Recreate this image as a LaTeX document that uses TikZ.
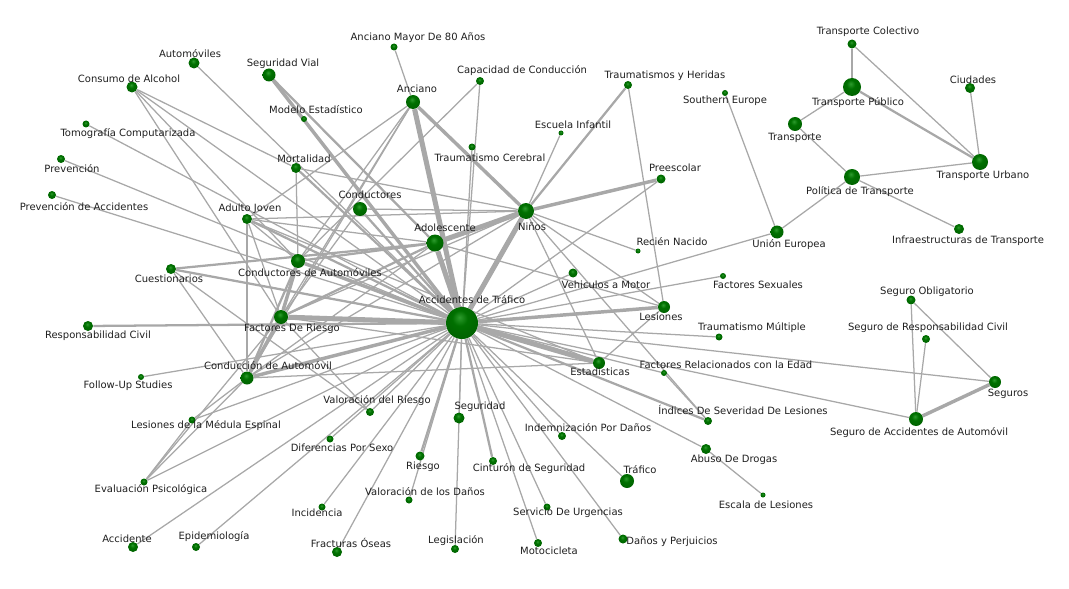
\documentclass[tikz,border=0pt]{standalone}
\usepackage{fontspec}
\setmainfont{DejaVu Sans}
\usetikzlibrary{positioning}
\definecolor{kwhi}{RGB}{45,155,45}
\definecolor{kwmid}{RGB}{0,112,0}
\definecolor{kwdark}{RGB}{0,62,0}
\definecolor{kwedge}{RGB}{168,168,168}
\pgfdeclareradialshading{kwball}{\pgfpoint{-4bp}{9bp}}{color(0bp)=(kwhi); color(12bp)=(kwmid); color(34bp)=(kwmid!85!black); color(50bp)=(kwdark); color(72bp)=(kwdark)}
\pgfdeclarelayer{edges}
\pgfsetlayers{edges,main}

\begin{document}
\begin{tikzpicture}[x=0.75pt,y=-0.75pt,
		kwnode/.style={circle,inner sep=0pt,shading=kwball},
		kwlabel/.style={inner sep=0pt,text=black!88,font=\fontsize{7.5}{9}\selectfont},
		w1/.style={draw=kwedge,line width=0.95pt},
		w2/.style={draw=kwedge,line width=1.7pt},
		w3/.style={draw=kwedge,line width=2.6pt},
		w4/.style={draw=kwedge,line width=3.8pt}]
		\useasboundingbox (0,0) rectangle (1069,588);
		% keywords: name/x/y/diameter/label x/label y/text
		\foreach \n/\x/\y/\d/\lx/\ly/\t in {
			hub/462/323/32/472/300/Accidentes de Tráfico,
			auto/194/63/11/190/54/Automóviles,
			segvial/269/75/13/283/64/Seguridad Vial,
			alcohol/132/87/11/129/79/Consumo de Alcohol,
			modelo/304/119/6/316/110/Modelo Estadístico,
			tomo/86/124/7/128/134/Tomografía Computarizada,
			prev/61/159/8/72/169/Prevención,
			prevacc/52/195/8/84/207/Prevención de Accidentes,
			mort/296/168/10/304/159/Mortalidad,
			adulto/247/219/10/250/209/Adulto Joven,
			condaut/298/261/14/310/273/Conductores de Automóviles,
			cuest/171/269/10/169/279/Cuestionarios,
			conductores/360/209/14/370/195/Conductores,
			ancmayor/394/47/7/418/38/Anciano Mayor De 80 Años,
			capac/480/81/8/522/71/Capacidad de Conducción,
			anciano/413/102/14/417/89/Anciano,
			trauher/628/85/8/665/76/Traumatismos y Heridas,
			escuela/561/133/5/573/125/Escuela Infantil,
			traucer/472/147/7/490/158/Traumatismo Cerebral,
			presc/661/179/9/675/168/Preescolar,
			ninos/526/211/16/532/227/Niños,
			adol/435/243/17/445/228/Adolescente,
			recien/638/251/5/672/242/Recién Nacido,
			vehic/573/273/9/606/285/Vehiculos a Motor,
			tcol/852/44/9/868/32/Transporte Colectivo,
			tpub/852/87/18/858/103/Transporte Público,
			ciud/970/88/10/973/80/Ciudades,
			south/725/93/6/725/101/Southern Europe,
			transp/795/124/14/795/138/Transporte,
			turb/980/162/16/983/176/Transporte Urbano,
			polit/852/177/16/860/192/Política de Transporte,
			ue/777/232/13/789/245/Unión Europea,
			infra/959/229/10/968/241/Infraestructuras de Transporte,
			fsex/723/276/6/758/285/Factores Sexuales,
			segob/911/300/9/927/292/Seguro Obligatorio,
			segrc/926/339/8/928/328/Seguro de Responsabilidad Civil,
			traumul/719/337/7/752/328/Traumatismo Múltiple,
			factedad/664/373/6/726/365/Factores Relacionados con la Edad,
			seguros/995/382/12/1008/394/Seguros,
			segacc/916/419/14/919/433/Seguro de Accidentes de Automóvil,
			indices/708/421/8/743/410/Índices De Severidad De Lesiones,
			abuso/706/449/10/734/460/Abuso De Drogas,
			escala/763/495/5/766/505/Escala de Lesiones,
			lesiones/664/307/12/661/317/Lesiones,
			estad/599/363/12/600/372/Estadisticas,
			valries/370/412/8/377/401/Valoración del Riesgo,
			seguridad/459/418/11/480/407/Seguridad,
			indem/562/436/8/588/428/Indemnización Por Daños,
			difsexo/330/439/7/342/448/Diferencias Por Sexo,
			riesgo/420/456/9/423/467/Riesgo,
			cint/493/461/8/529/469/Cinturón de Seguridad,
			trafico/627/481/14/640/470/Tráfico,
			valdan/409/500/7/425/492/Valoración de los Daños,
			servurg/547/507/7/568/513/Servicio De Urgencias,
			incid/322/507/7/317/513/Incidencia,
			legis/455/549/8/456/541/Legislación,
			moto/538/543/8/549/551/Motocicleta,
			danos/623/539/9/672/542/Daños y Perjuicios,
			fract/337/552/10/351/543/Fracturas Óseas,
			respciv/88/326/10/98/336/Responsabilidad Civil,
			factries/281/317/14/292/329/Factores De Riesgo,
			conduc/247/378/13/268/366/Conducción de Automóvil,
			followup/141/377/6/128/386/Follow-Up Studies,
			lme/192/420/7/206/426/Lesiones de la Médula Espinal,
			evalps/144/482/7/151/490/Evaluación Psicológica,
			accid/133/547/10/127/539/Accidente,
			epid/196/547/8/214/537/Epidemiología}
		{
			\node[kwnode,minimum size=\d*0.75pt] (\n) at (\x,\y) {};
			\node[kwlabel] (\n-l) at (\lx,\ly) {\t};
		}
		\begin{pgfonlayer}{edges}
			% links to the hub
			\foreach \b/\w in {auto/w1,segvial/w3,alcohol/w1,modelo/w1,tomo/w1,prev/w1,prevacc/w1,
				mort/w2,adulto/w2,condaut/w3,cuest/w2,conductores/w2,capac/w1,anciano/w4,traucer/w1,
				presc/w1,ninos/w4,adol/w4,vehic/w1,ue/w1,fsex/w1,traumul/w1,factedad/w1,seguros/w1,
				segacc/w1,indices/w2,abuso/w1,lesiones/w3,estad/w4,valries/w1,seguridad/w1,indem/w1,
				difsexo/w1,riesgo/w2,cint/w2,trafico/w1,valdan/w1,servurg/w1,incid/w1,legis/w1,moto/w1,
				danos/w1,fract/w1,respciv/w2,factries/w4,conduc/w3,followup/w1,lme/w1,evalps/w1,
				accid/w1,epid/w1}
				\draw[\w] (hub) -- (\b);
			% other links
			\foreach \a/\b/\w in {ninos/adol/w4,ninos/anciano/w3,ninos/presc/w3,ninos/escuela/w1,
				ninos/trauher/w2,ninos/recien/w1,ninos/lesiones/w1,ninos/estad/w1,ninos/indices/w1,
				ninos/conductores/w1,ninos/mort/w1,ninos/adulto/w1,ninos/conduc/w1,ninos/factries/w1,
				trauher/lesiones/w1,lesiones/estad/w1,adol/lesiones/w1,
				anciano/ancmayor/w1,anciano/adulto/w1,anciano/condaut/w1,anciano/factries/w1,anciano/conduc/w1,
				capac/condaut/w1,adulto/condaut/w1,adulto/factries/w1,adulto/conduc/w1,adulto/adol/w1,
				adulto/estad/w1,condaut/factries/w3,condaut/conduc/w2,condaut/adol/w2,
				cuest/adol/w2,cuest/valries/w1,cuest/conduc/w1,
				factries/conduc/w3,factries/adol/w2,factries/valries/w1,factries/evalps/w1,factries/estad/w1,
				conduc/estad/w1,conduc/adol/w1,conduc/lme/w1,conduc/evalps/w1,lme/evalps/w1,
				mort/alcohol/w1,mort/condaut/w1,alcohol/factries/w1,alcohol/condaut/w1,
				segvial/adol/w2,conductores/factries/w1,
				seguros/segacc/w3,segob/segacc/w1,segob/seguros/w1,segrc/segacc/w1,
				tcol/tpub/w1,tcol/turb/w1,tpub/turb/w2,tpub/transp/w1,transp/polit/w1,polit/turb/w1,
				polit/ue/w1,polit/infra/w1,ciud/turb/w1,ue/south/w1,
				factedad/indices/w1,abuso/escala/w1}
				\draw[\w] (\a) -- (\b);
		\end{pgfonlayer}
	\end{tikzpicture}
\end{document}
